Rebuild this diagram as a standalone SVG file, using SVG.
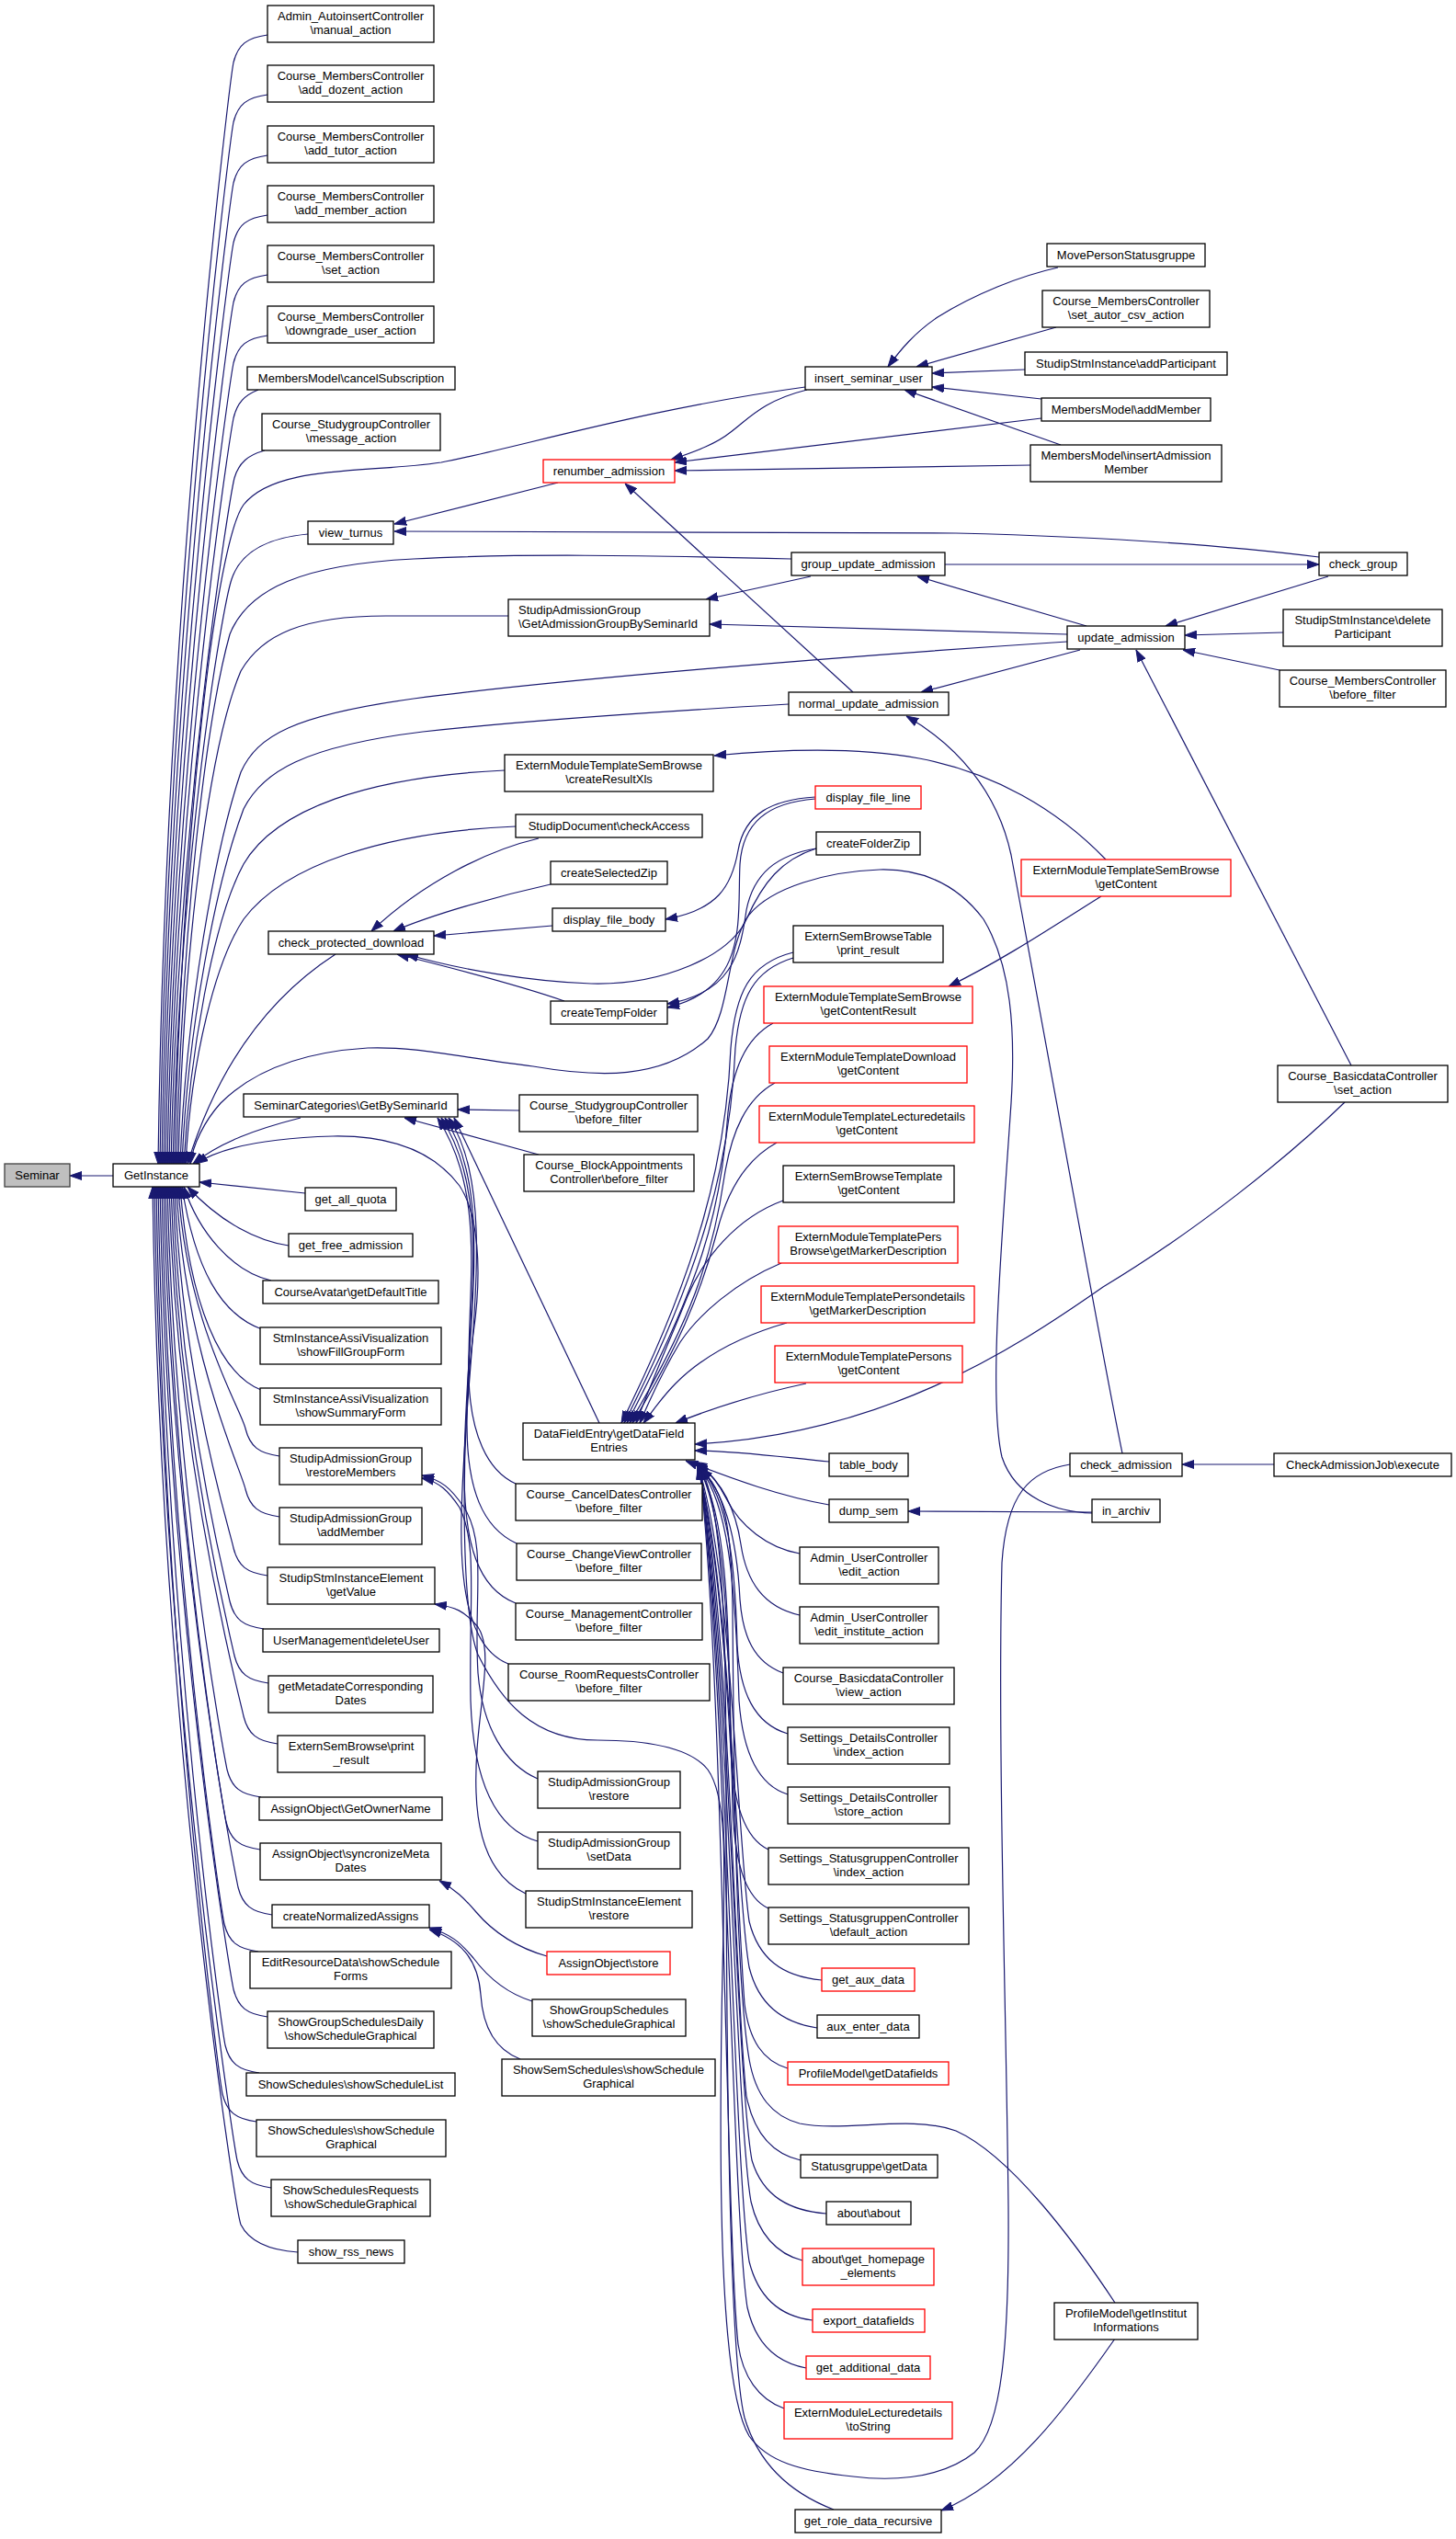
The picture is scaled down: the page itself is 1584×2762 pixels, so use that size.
<svg xmlns="http://www.w3.org/2000/svg" width="1584" height="2762" viewBox="0 0 1584 2762">
<defs>
<style>
.n rect{fill:#fff;stroke:#000;stroke-width:1.3}
.r rect{fill:#fff;stroke:#f00;stroke-width:1.3}
.g rect{fill:#bfbfbf;stroke:#404040;stroke-width:1.3}
text{font-family:"Liberation Sans",Arial,Helvetica,sans-serif;font-size:13px;fill:#000;text-anchor:middle}
.lt text{text-anchor:start}
#edges path{fill:none;stroke:#191970;stroke-width:1.2;marker-end:url(#ah)}
</style>
<marker id="ah" viewBox="0 0 13 10" refX="13" refY="5" markerWidth="13" markerHeight="10" markerUnits="userSpaceOnUse" orient="auto"><path d="M0,0.5 L13,5 L0,9.5 z" fill="#191970" stroke="#191970" stroke-width="1"/></marker>
</defs>
<rect width="1584" height="2762" fill="#fff"/>
<g id="edges">
<path d="M123,1279 L76,1279"/>
<path d="M291,38 C269,41 259,48 254,68 C250,88 180,652 172,1266"/>
<path d="M291,103 C269,106 259,113 254,133 C250,153 182,685 174,1266"/>
<path d="M291,169 C269,172 259,179 254,199 C250,219 184,718 176,1266"/>
<path d="M291,234 C269,237 259,244 254,264 C250,284 186,750 178,1266"/>
<path d="M291,299 C269,302 259,309 254,329 C250,349 188,783 180,1266"/>
<path d="M291,365 C269,368 259,375 254,395 C250,415 190,816 182,1266"/>
<path d="M281,424 C266,430 258,438 254,455 C250,475 192,845 184,1266"/>
<path d="M288,490 C270,495 260,503 255,520 C250,540 194,878 186,1266"/>
<path d="M335,581 C290,585 262,600 252,630 C242,660 196,924 188,1266"/>
<path d="M876,421 C700,445 560,488 480,503 C400,515 300,505 265,549 C235,590 198,900 190,1266"/>
<path d="M861,608 C700,604 560,602 450,608 C330,614 270,640 250,690 C225,780 198,1000 192,1266"/>
<path d="M553,670 L420,670 C330,670 285,690 262,730 C232,800 200,1000 194,1266"/>
<path d="M1161,698 C900,715 600,740 450,760 C320,778 280,800 262,840 C235,920 202,1100 196,1266"/>
<path d="M858,766 C700,775 560,785 460,796 C330,812 285,840 265,880 C235,960 204,1120 198,1266"/>
<path d="M549,838 C400,845 300,880 265,940 C232,1000 206,1150 200,1266"/>
<path d="M561,899 C420,905 310,940 265,1000 C235,1045 208,1150 202,1266"/>
<path d="M365,1038 C300,1080 240,1150 204,1266"/>
<path d="M1188,1646 C1150,1645 1105,1630 1090,1585 C1075,1520 1090,1350 1100,1200 C1105,1120 1100,1050 1070,1000 C1040,960 1000,945 957,946 C900,948 840,965 815,995 C790,1030 795,1100 770,1130 C720,1175 650,1172 580,1160 C500,1150 450,1138 400,1140 C320,1145 270,1170 240,1200 C222,1220 210,1245 207,1266"/>
<path d="M327,1216 C280,1228 240,1242 210,1266"/>
<path d="M1164,1593 C1120,1600 1095,1625 1090,1700 C1085,1900 1095,2200 1097,2400 C1098,2550 1090,2640 1060,2668 C1020,2700 960,2698 928,2694 C870,2688 835,2678 815,2650 C785,2600 782,2400 785,2200 C787,2050 795,1960 770,1925 C750,1900 700,1893 650,1893 C580,1893 545,1850 520,1800 C500,1750 502,1550 515,1450 C525,1380 520,1320 500,1290 C470,1250 420,1235 362,1236 C290,1238 240,1248 213,1266"/>
<path d="M332,1298 L217,1286"/>
<path d="M314,1355 C280,1350 240,1330 204,1291"/>
<path d="M295,1393 C252,1383 216,1340 200,1291"/>
<path d="M285,1446 C240,1430 212,1380 198,1291"/>
<path d="M284,1512 C240,1495 206,1420 196,1291"/>
<path d="M304,1584 C282,1581 272,1574 267,1554 C263,1534 202,1437 194,1291"/>
<path d="M304,1650 C282,1647 272,1640 267,1620 C263,1600 200,1470 192,1291"/>
<path d="M291,1714 C269,1711 259,1704 254,1684 C250,1664 198,1502 190,1291"/>
<path d="M287,1772 C265,1769 255,1762 250,1742 C246,1722 196,1531 188,1291"/>
<path d="M292,1831 C270,1828 260,1821 255,1801 C251,1781 194,1561 186,1291"/>
<path d="M302,1897 C280,1894 270,1887 265,1867 C261,1847 192,1594 184,1291"/>
<path d="M284,1955 C262,1952 252,1945 247,1925 C243,1905 190,1623 182,1291"/>
<path d="M283,2012 C261,2009 251,2002 246,1982 C242,1962 188,1651 180,1291"/>
<path d="M296,2083 C274,2080 264,2073 259,2053 C255,2033 186,1687 178,1291"/>
<path d="M281,2123 C259,2120 249,2113 244,2093 C240,2073 184,1707 176,1291"/>
<path d="M291,2194 C269,2191 259,2184 254,2164 C250,2144 182,1742 174,1291"/>
<path d="M282,2255 C260,2252 250,2245 245,2225 C241,2205 180,1773 172,1291"/>
<path d="M279,2308 C257,2305 247,2298 242,2278 C238,2258 178,1800 170,1291"/>
<path d="M295,2380 C273,2377 263,2370 258,2350 C254,2330 176,1835 168,1291"/>
<path d="M324,2450 C295,2448 272,2440 262,2420 C255,2400 174,1870 166,1291"/>
<path d="M607,525 L429,570"/>
<path d="M1435,606 C1340,594 1200,584 1040,580 L429,578"/>
<path d="M1028,614 L1435,614"/>
<path d="M882,627 L768,652"/>
<path d="M1161,690 C1000,686 850,681 772,679"/>
<path d="M1182,681 L998,627"/>
<path d="M1445,627 L1268,681"/>
<path d="M1396,688 L1289,691"/>
<path d="M1392,729 L1287,707"/>
<path d="M1470,1159 L1236,707"/>
<path d="M1175,707 L1002,753"/>
<path d="M928,753 L680,526"/>
<path d="M1221,1581 C1200,1480 1150,1200 1100,930 C1085,860 1040,810 986,779"/>
<path d="M1203,935 C1150,880 1080,840 1000,825 C930,812 850,815 777,822"/>
<path d="M1198,975 C1150,1005 1090,1045 1032,1073"/>
<path d="M887,867 C840,870 810,885 803,925 C796,965 780,990 724,1000"/>
<path d="M887,869 C835,873 808,895 805,940 C802,1000 815,1075 726,1096"/>
<path d="M888,923 C845,930 820,950 812,990 C805,1040 795,1080 726,1092"/>
<path d="M586,912 C530,925 460,960 404,1013"/>
<path d="M599,962 C540,975 470,995 428,1013"/>
<path d="M601,1007 L472,1018"/>
<path d="M614,1089 C560,1070 480,1050 432,1038"/>
<path d="M888,923 C850,935 830,960 812,1000 C795,1040 720,1072 643,1070 C580,1068 500,1055 442,1038"/>
<path d="M565,1208 L498,1207"/>
<path d="M586,1256 L440,1216"/>
<path d="M652,1548 L494,1216"/>
<path d="M561,1614 C530,1600 512,1560 510,1500 C508,1400 530,1300 476,1216"/>
<path d="M562,1679 C525,1662 508,1620 508,1550 C508,1420 535,1300 480,1216"/>
<path d="M561,1744 C520,1728 505,1680 505,1600 C505,1450 540,1300 484,1216"/>
<path d="M553,1810 C515,1795 500,1740 502,1650 C505,1480 545,1300 488,1216"/>
<path d="M585,1935 C550,1920 525,1880 520,1820 C515,1740 530,1680 505,1640 C490,1618 480,1610 459,1605"/>
<path d="M585,2003 C540,1990 515,1940 512,1850 C510,1740 520,1680 500,1640 C488,1622 478,1612 459,1608"/>
<path d="M572,2060 C540,2045 520,2010 518,1950 C515,1870 540,1800 520,1770 C505,1752 495,1748 473,1745"/>
<path d="M595,2128 C560,2118 535,2100 518,2080 C505,2065 495,2055 478,2046"/>
<path d="M579,2177 C550,2168 530,2150 515,2130 C500,2112 490,2104 467,2097"/>
<path d="M566,2240 C535,2228 525,2200 523,2170 C520,2130 500,2110 467,2099"/>
<path d="M1151,291 C1110,300 1060,320 1020,345 C995,362 980,380 966,399"/>
<path d="M1149,356 L997,399"/>
<path d="M1115,402 L1014,406"/>
<path d="M1133,434 L1014,421"/>
<path d="M1154,484 L984,424"/>
<path d="M878,424 C830,436 815,455 795,470 C780,482 760,490 730,500"/>
<path d="M1133,455 L734,503"/>
<path d="M1121,506 L734,512"/>
<path d="M863,1036 C815,1048 800,1080 795,1140 C790,1260 760,1380 676,1548"/>
<path d="M863,1042 C820,1055 805,1085 800,1140 C795,1260 765,1380 679,1548"/>
<path d="M841,1113 C810,1130 797,1165 792,1210 C785,1320 760,1400 682,1548"/>
<path d="M843,1178 C812,1195 796,1230 788,1280 C775,1370 750,1440 685,1548"/>
<path d="M845,1243 C810,1262 790,1300 780,1340 C762,1410 735,1470 688,1548"/>
<path d="M852,1306 C800,1325 765,1370 748,1410 C730,1455 710,1500 692,1548"/>
<path d="M850,1374 C800,1395 760,1430 740,1460 C722,1490 708,1520 696,1548"/>
<path d="M856,1439 C800,1455 760,1480 735,1505 C720,1520 710,1535 700,1548"/>
<path d="M877,1505 C830,1515 780,1530 735,1548"/>
<path d="M1463,1199 C1400,1260 1300,1340 1200,1400 C1100,1470 960,1560 756,1571"/>
<path d="M902,1590 C850,1585 800,1578 756,1578"/>
<path d="M902,1637 C850,1628 800,1610 746,1589"/>
<path d="M870,1690 C835,1684 805,1660 790,1630 C780,1610 770,1598 756,1590"/>
<path d="M870,1757 C830,1748 812,1720 806,1680 C800,1640 785,1610 757,1591"/>
<path d="M852,1820 C820,1808 808,1780 805,1740 C802,1680 790,1620 757,1592"/>
<path d="M857,1886 C820,1875 805,1840 802,1790 C800,1700 792,1625 758,1592"/>
<path d="M857,1952 C825,1942 808,1905 804,1850 C800,1720 792,1630 758,1593"/>
<path d="M836,2012 C810,2000 797,1960 795,1900 C793,1750 790,1640 758,1594"/>
<path d="M836,2076 C812,2065 800,2030 797,1970 C794,1800 790,1640 758,1594"/>
<path d="M894,2154 C850,2150 825,2130 815,2090 C802,2000 796,1700 759,1594"/>
<path d="M889,2206 C850,2200 825,2180 815,2140 C800,2050 795,1720 759,1595"/>
<path d="M857,2250 C830,2242 815,2220 810,2180 C800,2050 795,1730 759,1595"/>
<path d="M871,2350 C840,2343 820,2320 812,2280 C798,2150 794,1750 760,1595"/>
<path d="M899,2408 C860,2405 830,2390 818,2350 C800,2250 793,1760 760,1596"/>
<path d="M873,2459 C845,2452 825,2430 817,2395 C800,2300 792,1780 760,1596"/>
<path d="M884,2524 C850,2520 825,2500 815,2460 C798,2350 790,1790 761,1596"/>
<path d="M877,2576 C845,2570 822,2550 813,2510 C796,2400 789,1800 761,1597"/>
<path d="M853,2620 C825,2610 808,2585 803,2550 C790,2430 787,1810 761,1597"/>
<path d="M907,2730 C860,2712 825,2680 810,2630 C792,2560 790,2200 790,1950 C790,1800 788,1640 762,1597"/>
<path d="M1213,2505 C1170,2440 1100,2345 1040,2318 C990,2300 920,2320 870,2310 C840,2302 822,2280 815,2240 C800,2150 798,1900 797,1750 C796,1660 788,1620 762,1598"/>
<path d="M1213,2544 C1160,2620 1100,2700 1024,2731"/>
<path d="M1188,1645 L988,1644"/>
<path d="M1386,1593 L1286,1593"/>
</g>
<g id="n_seminar" class="g"><rect x="5" y="1266" width="71" height="25"/><text x="40.5" y="1283">Seminar</text></g>
<g id="n_getinstance" class="n"><rect x="123" y="1266" width="94" height="25"/><text x="170" y="1283">GetInstance</text></g>
<g id="n_admin" class="n"><rect x="291" y="6" width="181" height="40"/><text x="381.5" y="22">Admin_AutoinsertController</text><text x="381.5" y="36.5">\manual_action</text></g>
<g id="n_dozent" class="n"><rect x="291" y="71" width="181" height="40"/><text x="381.5" y="87">Course_MembersController</text><text x="381.5" y="101.5">\add_dozent_action</text></g>
<g id="n_tutor" class="n"><rect x="291" y="137" width="181" height="40"/><text x="381.5" y="153">Course_MembersController</text><text x="381.5" y="167.5">\add_tutor_action</text></g>
<g id="n_member" class="n"><rect x="291" y="202" width="181" height="40"/><text x="381.5" y="218">Course_MembersController</text><text x="381.5" y="232.5">\add_member_action</text></g>
<g id="n_set" class="n"><rect x="291" y="267" width="181" height="40"/><text x="381.5" y="283">Course_MembersController</text><text x="381.5" y="297.5">\set_action</text></g>
<g id="n_downgrade" class="n"><rect x="291" y="333" width="181" height="40"/><text x="381.5" y="349">Course_MembersController</text><text x="381.5" y="363.5">\downgrade_user_action</text></g>
<g id="n_cancel" class="n"><rect x="269" y="399" width="226" height="25"/><text x="382" y="416">MembersModel\cancelSubscription</text></g>
<g id="n_message" class="n"><rect x="285" y="450" width="194" height="40"/><text x="382" y="466">Course_StudygroupController</text><text x="382" y="480.5">\message_action</text></g>
<g id="n_viewturnus" class="n"><rect x="335" y="567" width="93" height="25"/><text x="381.5" y="584">view_turnus</text></g>
<g id="n_cpd" class="n"><rect x="292" y="1013" width="180" height="25"/><text x="382" y="1030">check_protected_download</text></g>
<g id="n_semcat" class="n"><rect x="265" y="1190" width="233" height="25"/><text x="381.5" y="1207">SeminarCategories\GetBySeminarId</text></g>
<g id="n_quota" class="n"><rect x="332" y="1292" width="99" height="25"/><text x="381.5" y="1309">get_all_quota</text></g>
<g id="n_freeadm" class="n"><rect x="314" y="1342" width="135" height="25"/><text x="381.5" y="1359">get_free_admission</text></g>
<g id="n_avatar" class="n"><rect x="286" y="1393" width="191" height="25"/><text x="381.5" y="1410">CourseAvatar\getDefaultTitle</text></g>
<g id="n_fillgroup" class="n"><rect x="283" y="1444" width="197" height="40"/><text x="381.5" y="1460">StmInstanceAssiVisualization</text><text x="381.5" y="1474.5">\showFillGroupForm</text></g>
<g id="n_summary" class="n"><rect x="283" y="1510" width="197" height="40"/><text x="381.5" y="1526">StmInstanceAssiVisualization</text><text x="381.5" y="1540.5">\showSummaryForm</text></g>
<g id="n_restoremembers" class="n"><rect x="304" y="1575" width="155" height="40"/><text x="381.5" y="1591">StudipAdmissionGroup</text><text x="381.5" y="1605.5">\restoreMembers</text></g>
<g id="n_addmember" class="n"><rect x="304" y="1640" width="155" height="40"/><text x="381.5" y="1656">StudipAdmissionGroup</text><text x="381.5" y="1670.5">\addMember</text></g>
<g id="n_getvalue" class="n"><rect x="291" y="1705" width="182" height="40"/><text x="382" y="1721">StudipStmInstanceElement</text><text x="382" y="1735.5">\getValue</text></g>
<g id="n_deleteuser" class="n"><rect x="286" y="1772" width="192" height="25"/><text x="382" y="1789">UserManagement\deleteUser</text></g>
<g id="n_metadate" class="n"><rect x="292" y="1823" width="179" height="40"/><text x="381.5" y="1839">getMetadateCorresponding</text><text x="381.5" y="1853.5">Dates</text></g>
<g id="n_esbprint" class="n"><rect x="302" y="1888" width="160" height="40"/><text x="382" y="1904">ExternSemBrowse\print</text><text x="382" y="1918.5">_result</text></g>
<g id="n_owner" class="n"><rect x="282" y="1955" width="199" height="25"/><text x="381.5" y="1972">AssignObject\GetOwnerName</text></g>
<g id="n_syncmeta" class="n"><rect x="283" y="2005" width="197" height="40"/><text x="381.5" y="2021">AssignObject\syncronizeMeta</text><text x="381.5" y="2035.5">Dates</text></g>
<g id="n_normassigns" class="n"><rect x="296" y="2072" width="171" height="25"/><text x="381.5" y="2089">createNormalizedAssigns</text></g>
<g id="n_editres" class="n"><rect x="272" y="2123" width="219" height="40"/><text x="381.5" y="2139">EditResourceData\showSchedule</text><text x="381.5" y="2153.5">Forms</text></g>
<g id="n_sgsdaily" class="n"><rect x="291" y="2188" width="181" height="40"/><text x="381.5" y="2204">ShowGroupSchedulesDaily</text><text x="381.5" y="2218.5">\showScheduleGraphical</text></g>
<g id="n_sslist" class="n"><rect x="268" y="2255" width="227" height="25"/><text x="381.5" y="2272">ShowSchedules\showScheduleList</text></g>
<g id="n_ssgraph" class="n"><rect x="279" y="2306" width="206" height="40"/><text x="382" y="2322">ShowSchedules\showSchedule</text><text x="382" y="2336.5">Graphical</text></g>
<g id="n_ssreq" class="n"><rect x="295" y="2371" width="173" height="40"/><text x="381.5" y="2387">ShowSchedulesRequests</text><text x="381.5" y="2401.5">\showScheduleGraphical</text></g>
<g id="n_rss" class="n"><rect x="324" y="2437" width="116" height="25"/><text x="382" y="2454">show_rss_news</text></g>
<g id="n_renumber" class="r"><rect x="591" y="500" width="143" height="25"/><text x="662.5" y="517">renumber_admission</text></g>
<g id="n_gagbs" class="n lt"><rect x="553" y="652" width="219" height="40"/><text x="564" y="668">StudipAdmissionGroup</text><text x="564" y="682.5">\GetAdmissionGroupBySeminarId</text></g>
<g id="n_createxls" class="n"><rect x="549" y="821" width="227" height="40"/><text x="662.5" y="837">ExternModuleTemplateSemBrowse</text><text x="662.5" y="851.5">\createResultXls</text></g>
<g id="n_checkaccess" class="n"><rect x="561" y="886" width="203" height="25"/><text x="662.5" y="903">StudipDocument\checkAccess</text></g>
<g id="n_selzip" class="n"><rect x="599" y="937" width="127" height="25"/><text x="662.5" y="954">createSelectedZip</text></g>
<g id="n_filebody" class="n"><rect x="601" y="988" width="123" height="25"/><text x="662.5" y="1005">display_file_body</text></g>
<g id="n_tempfolder" class="n"><rect x="599" y="1089" width="127" height="25"/><text x="662.5" y="1106">createTempFolder</text></g>
<g id="n_sgbefore" class="n"><rect x="565" y="1191" width="194" height="40"/><text x="662" y="1207">Course_StudygroupController</text><text x="662" y="1221.5">\before_filter</text></g>
<g id="n_blockappt" class="n"><rect x="570" y="1256" width="185" height="40"/><text x="662.5" y="1272">Course_BlockAppointments</text><text x="662.5" y="1286.5">Controller\before_filter</text></g>
<g id="n_dfe" class="n"><rect x="569" y="1548" width="187" height="40"/><text x="662.5" y="1564">DataFieldEntry\getDataField</text><text x="662.5" y="1578.5">Entries</text></g>
<g id="n_canceldates" class="n"><rect x="561" y="1614" width="203" height="40"/><text x="662.5" y="1630">Course_CancelDatesController</text><text x="662.5" y="1644.5">\before_filter</text></g>
<g id="n_changeview" class="n"><rect x="562" y="1679" width="201" height="40"/><text x="662.5" y="1695">Course_ChangeViewController</text><text x="662.5" y="1709.5">\before_filter</text></g>
<g id="n_management" class="n"><rect x="561" y="1744" width="203" height="40"/><text x="662.5" y="1760">Course_ManagementController</text><text x="662.5" y="1774.5">\before_filter</text></g>
<g id="n_roomreq" class="n"><rect x="553" y="1810" width="219" height="40"/><text x="662.5" y="1826">Course_RoomRequestsController</text><text x="662.5" y="1840.5">\before_filter</text></g>
<g id="n_sagrestore" class="n"><rect x="585" y="1927" width="155" height="40"/><text x="662.5" y="1943">StudipAdmissionGroup</text><text x="662.5" y="1957.5">\restore</text></g>
<g id="n_sagsetdata" class="n"><rect x="585" y="1993" width="155" height="40"/><text x="662.5" y="2009">StudipAdmissionGroup</text><text x="662.5" y="2023.5">\setData</text></g>
<g id="n_sserestore" class="n"><rect x="572" y="2057" width="181" height="40"/><text x="662.5" y="2073">StudipStmInstanceElement</text><text x="662.5" y="2087.5">\restore</text></g>
<g id="n_aostore" class="r"><rect x="595" y="2123" width="134" height="25"/><text x="662" y="2140">AssignObject\store</text></g>
<g id="n_sgsgraph" class="n"><rect x="579" y="2175" width="167" height="40"/><text x="662.5" y="2191">ShowGroupSchedules</text><text x="662.5" y="2205.5">\showScheduleGraphical</text></g>
<g id="n_ssemgraph" class="n"><rect x="546" y="2240" width="232" height="40"/><text x="662" y="2256">ShowSemSchedules\showSchedule</text><text x="662" y="2270.5">Graphical</text></g>
<g id="n_insertuser" class="n"><rect x="876" y="399" width="138" height="25"/><text x="945" y="416">insert_seminar_user</text></g>
<g id="n_groupupd" class="n"><rect x="861" y="601" width="167" height="25"/><text x="944.5" y="618">group_update_admission</text></g>
<g id="n_normalupd" class="n"><rect x="858" y="753" width="174" height="25"/><text x="945" y="770">normal_update_admission</text></g>
<g id="n_fileline" class="r"><rect x="887" y="855" width="115" height="25"/><text x="944.5" y="872">display_file_line</text></g>
<g id="n_folderzip" class="n"><rect x="888" y="905" width="113" height="25"/><text x="944.5" y="922">createFolderZip</text></g>
<g id="n_esbtable" class="n"><rect x="863" y="1007" width="163" height="40"/><text x="944.5" y="1023">ExternSemBrowseTable</text><text x="944.5" y="1037.5">\print_result</text></g>
<g id="n_gcr" class="r"><rect x="831" y="1073" width="227" height="40"/><text x="944.5" y="1089">ExternModuleTemplateSemBrowse</text><text x="944.5" y="1103.5">\getContentResult</text></g>
<g id="n_dlgc" class="r"><rect x="837" y="1138" width="215" height="40"/><text x="944.5" y="1154">ExternModuleTemplateDownload</text><text x="944.5" y="1168.5">\getContent</text></g>
<g id="n_lecgc" class="r"><rect x="826" y="1203" width="234" height="40"/><text x="943" y="1219">ExternModuleTemplateLecturedetails</text><text x="943" y="1233.5">\getContent</text></g>
<g id="n_esbtgc" class="n"><rect x="852" y="1268" width="186" height="40"/><text x="945" y="1284">ExternSemBrowseTemplate</text><text x="945" y="1298.5">\getContent</text></g>
<g id="n_persbrowse" class="r"><rect x="847" y="1334" width="195" height="40"/><text x="944.5" y="1350">ExternModuleTemplatePers</text><text x="944.5" y="1364.5">Browse\getMarkerDescription</text></g>
<g id="n_persondetails" class="r"><rect x="828" y="1399" width="232" height="40"/><text x="944" y="1415">ExternModuleTemplatePersondetails</text><text x="944" y="1429.5">\getMarkerDescription</text></g>
<g id="n_persons" class="r"><rect x="843" y="1464" width="204" height="40"/><text x="945" y="1480">ExternModuleTemplatePersons</text><text x="945" y="1494.5">\getContent</text></g>
<g id="n_tablebody" class="n"><rect x="902" y="1581" width="86" height="25"/><text x="945" y="1598">table_body</text></g>
<g id="n_dumpsem" class="n"><rect x="902" y="1631" width="86" height="25"/><text x="945" y="1648">dump_sem</text></g>
<g id="n_edit" class="n"><rect x="870" y="1683" width="151" height="40"/><text x="945.5" y="1699">Admin_UserController</text><text x="945.5" y="1713.5">\edit_action</text></g>
<g id="n_editinst" class="n"><rect x="870" y="1748" width="151" height="40"/><text x="945.5" y="1764">Admin_UserController</text><text x="945.5" y="1778.5">\edit_institute_action</text></g>
<g id="n_viewaction" class="n"><rect x="852" y="1814" width="186" height="40"/><text x="945" y="1830">Course_BasicdataController</text><text x="945" y="1844.5">\view_action</text></g>
<g id="n_detindex" class="n"><rect x="857" y="1879" width="176" height="40"/><text x="945" y="1895">Settings_DetailsController</text><text x="945" y="1909.5">\index_action</text></g>
<g id="n_detstore" class="n"><rect x="857" y="1944" width="176" height="40"/><text x="945" y="1960">Settings_DetailsController</text><text x="945" y="1974.5">\store_action</text></g>
<g id="n_sgindex" class="n"><rect x="836" y="2010" width="218" height="40"/><text x="945" y="2026">Settings_StatusgruppenController</text><text x="945" y="2040.5">\index_action</text></g>
<g id="n_sgdefault" class="n"><rect x="836" y="2075" width="218" height="40"/><text x="945" y="2091">Settings_StatusgruppenController</text><text x="945" y="2105.5">\default_action</text></g>
<g id="n_auxdata" class="r"><rect x="894" y="2141" width="101" height="25"/><text x="944.5" y="2158">get_aux_data</text></g>
<g id="n_auxenter" class="n"><rect x="889" y="2192" width="111" height="25"/><text x="944.5" y="2209">aux_enter_data</text></g>
<g id="n_pmdatafields" class="r"><rect x="857" y="2243" width="175" height="25"/><text x="944.5" y="2260">ProfileModel\getDatafields</text></g>
<g id="n_sggetdata" class="n"><rect x="871" y="2344" width="149" height="25"/><text x="945.5" y="2361">Statusgruppe\getData</text></g>
<g id="n_about" class="n"><rect x="899" y="2395" width="92" height="25"/><text x="945" y="2412">about\about</text></g>
<g id="n_homepage" class="r"><rect x="873" y="2446" width="143" height="40"/><text x="944.5" y="2462">about\get_homepage</text><text x="944.5" y="2476.5">_elements</text></g>
<g id="n_exportdf" class="r"><rect x="884" y="2512" width="122" height="25"/><text x="945" y="2529">export_datafields</text></g>
<g id="n_additional" class="r"><rect x="877" y="2563" width="135" height="25"/><text x="944.5" y="2580">get_additional_data</text></g>
<g id="n_lectostring" class="r"><rect x="853" y="2613" width="183" height="40"/><text x="944.5" y="2629">ExternModuleLecturedetails</text><text x="944.5" y="2643.5">\toString</text></g>
<g id="n_roledata" class="n"><rect x="865" y="2730" width="159" height="25"/><text x="944.5" y="2747">get_role_data_recursive</text></g>
<g id="n_moveperson" class="n"><rect x="1139" y="265" width="172" height="25"/><text x="1225" y="282">MovePersonStatusgruppe</text></g>
<g id="n_autorcsv" class="n"><rect x="1134" y="316" width="182" height="40"/><text x="1225" y="332">Course_MembersController</text><text x="1225" y="346.5">\set_autor_csv_action</text></g>
<g id="n_addparticipant" class="n"><rect x="1115" y="383" width="220" height="25"/><text x="1225" y="400">StudipStmInstance\addParticipant</text></g>
<g id="n_mmaddmember" class="n"><rect x="1133" y="433" width="184" height="25"/><text x="1225" y="450">MembersModel\addMember</text></g>
<g id="n_insertadm" class="n"><rect x="1121" y="484" width="208" height="40"/><text x="1225" y="500">MembersModel\insertAdmission</text><text x="1225" y="514.5">Member</text></g>
<g id="n_updadm" class="n"><rect x="1161" y="681" width="128" height="25"/><text x="1225" y="698">update_admission</text></g>
<g id="n_semgc" class="r"><rect x="1111" y="935" width="228" height="40"/><text x="1225" y="951">ExternModuleTemplateSemBrowse</text><text x="1225" y="965.5">\getContent</text></g>
<g id="n_checkadm" class="n"><rect x="1164" y="1581" width="122" height="25"/><text x="1225" y="1598">check_admission</text></g>
<g id="n_inarchiv" class="n"><rect x="1188" y="1631" width="74" height="25"/><text x="1225" y="1648">in_archiv</text></g>
<g id="n_pminst" class="n"><rect x="1147" y="2505" width="156" height="40"/><text x="1225" y="2521">ProfileModel\getInstitut</text><text x="1225" y="2535.5">Informations</text></g>
<g id="n_checkgroup" class="n"><rect x="1435" y="601" width="96" height="25"/><text x="1483" y="618">check_group</text></g>
<g id="n_deletepart" class="n"><rect x="1396" y="663" width="173" height="40"/><text x="1482.5" y="679">StudipStmInstance\delete</text><text x="1482.5" y="693.5">Participant</text></g>
<g id="n_mcbefore" class="n"><rect x="1392" y="729" width="181" height="40"/><text x="1482.5" y="745">Course_MembersController</text><text x="1482.5" y="759.5">\before_filter</text></g>
<g id="n_setaction" class="n"><rect x="1390" y="1159" width="185" height="40"/><text x="1482.5" y="1175">Course_BasicdataController</text><text x="1482.5" y="1189.5">\set_action</text></g>
<g id="n_cajob" class="n"><rect x="1386" y="1581" width="193" height="25"/><text x="1482.5" y="1598">CheckAdmissionJob\execute</text></g>
</svg>
